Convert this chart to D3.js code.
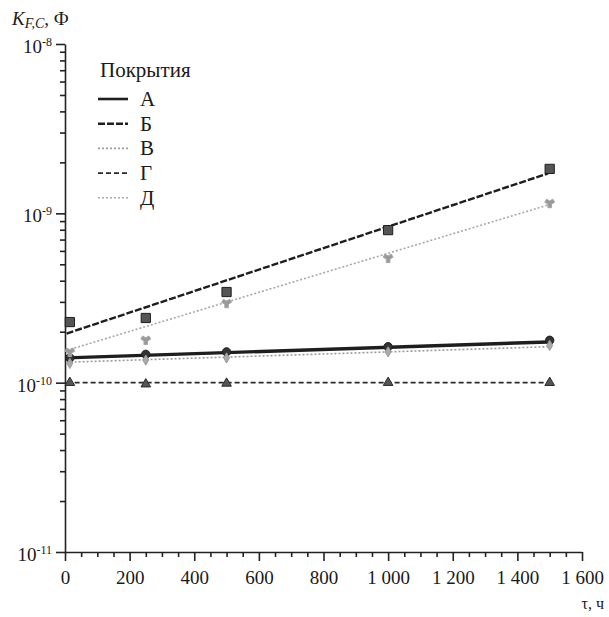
<!DOCTYPE html>
<html>
<head>
<meta charset="utf-8">
<script src="https://cdn.jsdelivr.net/npm/d3@7"></script>
<style>
  body { margin: 0; background: #fff; }
  svg text { font-family: "Liberation Serif", "Times New Roman", Times, "DejaVu Serif", serif; }
</style>
</head>
<body>
<svg width="609" height="617"></svg>
<script>
const FONT = '"Liberation Serif", "Times New Roman", Times, "DejaVu Serif", serif'

// exposure time, hours
const hours = [15, 250, 500, 1000, 1500]
const trendHours = [5, 1495]

const seriesNames = ['А', 'Б', 'В', 'Г', 'Д']

// measured points, F
const valuesA = [1.40e-10, 1.47e-10, 1.52e-10, 1.63e-10, 1.78e-10]
const valuesB = [2.28e-10, 2.41e-10, 3.43e-10, 7.96e-10, 1.83e-9]
const valuesV = [1.30e-10, 1.36e-10, 1.40e-10, 1.52e-10, 1.66e-10]
const valuesG = [1.00e-10, 0.98e-10, 0.99e-10, 1.00e-10, 1.00e-10]
const valuesD = [1.52e-10, 1.79e-10, 2.95e-10, 5.45e-10, 1.15e-9]

// trend lines (value at start / end)
const trendA = [1.40e-10, 1.74e-10]
const trendB = [1.95e-10, 1.72e-9]
const trendV = [1.32e-10, 1.63e-10]
const trendG = [1.00e-10, 1.00e-10]
const trendD = [1.55e-10, 1.12e-9]

const xTicks = [0, 200, 400, 600, 800, 1000, 1200, 1400, 1600]
const yDecades = [1e-11, 1e-10, 1e-9, 1e-8]

const styles = [
	{ color: '#1e1e1e', width: 3.4, dash: null,  symbol: d3.symbolCircle,   size: 55, fill: '#333' },
	{ color: '#1e1e1e', width: 2.4, dash: '7,2', symbol: d3.symbolSquare,   size: 85, fill: '#555' },
	{ color: '#9a9a9a', width: 1.6, dash: '2,2', symbol: d3.symbolDiamond,  size: 30, fill: '#aaa' },
	{ color: '#2a2a2a', width: 1.8, dash: '5,3', symbol: d3.symbolTriangle, size: 40, fill: '#555' },
	{ color: '#a8a8a8', width: 1.6, dash: '2,2', symbol: d3.symbolWye,      size: 45, fill: '#999' }
]

const series = [valuesA, valuesB, valuesV, valuesG, valuesD].map((vals, i) => ({
	name: seriesNames[i],
	points: vals.map((v, j) => ({ t: hours[j], v: v })),
	trend: [trendA, trendB, trendV, trendG, trendD][i].map((v, j) => ({ t: trendHours[j], v: v })),
	style: styles[i]
}))

const svg = d3.select('svg')

const x = d3.scaleLinear().domain([0, 1600]).range([65, 582])
const y = d3.scaleLog().domain([1e-11, 1e-8]).range([552, 44])

const fmt = d3.formatLocale({ decimal: ',', thousands: ' ', grouping: [3], currency: ['', ''] }).format(',d')

// x axis: major + minor ticks
const minorX = d3.range(0, 1601, 50).filter(d => d % 200 != 0)
svg.append('g')
	.attr('transform', `translate(0,${y(1e-11)})`)
	.call(d3.axisBottom(x).tickValues(minorX).tickSize(5).tickFormat(''))
	.call(g => g.select('.domain').remove())
const xAxis = svg.append('g')
	.attr('transform', `translate(0,${y(1e-11)})`)
	.call(d3.axisBottom(x).tickValues(xTicks).tickSize(9).tickSizeOuter(0).tickPadding(10).tickFormat(fmt))
xAxis.attr('font-family', FONT)
xAxis.selectAll('.tick text')
	.attr('font-size', 19)
	.attr('fill', '#1a1a1a')

// y axis: decades + minor ticks
const minorY = []
for (let k = -11; k < -8; k++) {
	for (let m = 2; m <= 9; m++) minorY.push(m * Math.pow(10, k))
}
svg.append('g')
	.attr('transform', `translate(${x(0)},0)`)
	.call(d3.axisLeft(y).tickValues(minorY).tickSize(5).tickFormat(''))
	.call(g => g.select('.domain').remove())
const yAxis = svg.append('g')
	.attr('transform', `translate(${x(0)},0)`)
	.call(d3.axisLeft(y).tickValues(yDecades).tickSize(9).tickSizeOuter(0).tickPadding(4))
yAxis.attr('font-family', FONT)
yAxis.selectAll('.tick text').each(function(d) {
	const t = d3.select(this).text('')
		.attr('font-size', 19)
		.attr('dy', '0.45em')
		.attr('fill', '#1a1a1a')
	t.append('tspan').text('10')
	t.append('tspan').attr('dy', '-0.6em').attr('font-size', 12).text('-' + Math.round(-Math.log10(d)))
})

svg.selectAll('.domain, .tick line').attr('stroke', '#222').attr('stroke-width', 1.6)

// series: trend lines first, then markers
const line = d3.line().x(d => x(d.t)).y(d => y(d.v))
series.forEach(s => {
	svg.append('path')
		.datum(s.trend)
		.attr('d', line)
		.attr('fill', 'none')
		.attr('stroke', s.style.color)
		.attr('stroke-width', s.style.width)
		.attr('stroke-dasharray', s.style.dash)
})
series.forEach(s => {
	svg.append('g').selectAll('path')
		.data(s.points)
		.join('path')
		.attr('transform', d => `translate(${x(d.t)},${y(d.v)})`)
		.attr('d', d3.symbol().type(s.style.symbol).size(s.style.size))
		.attr('fill', s.style.fill)
		.attr('stroke', s.style.color)
		.attr('stroke-width', 1)
})

// legend
const legend = svg.append('g').attr('transform', 'translate(98,77)')
legend.append('text')
	.attr('x', 2).attr('y', 0)
	.attr('font-family', FONT)
	.attr('font-size', 21)
	.attr('fill', '#1a1a1a')
	.text('Покрытия')
series.forEach((s, i) => {
	const row = legend.append('g').attr('transform', `translate(0,${22 + i * 24.7})`)
	row.append('line')
		.attr('x1', 0).attr('x2', 30)
		.attr('stroke', s.style.color)
		.attr('stroke-width', Math.min(s.style.width, 2.6))
		.attr('stroke-dasharray', s.style.dash)
	row.append('text')
		.attr('x', 42).attr('y', 7)
		.attr('font-family', FONT)
		.attr('font-size', 21)
		.attr('fill', '#1a1a1a')
		.text(s.name)
})

// axis titles
const yTitle = svg.append('text')
	.attr('x', 12).attr('y', 25)
	.attr('font-family', FONT)
	.attr('font-size', 19)
	.attr('fill', '#1a1a1a')
yTitle.append('tspan').attr('font-style', 'italic').text('K')
yTitle.append('tspan').attr('font-style', 'italic').attr('font-size', 14).attr('dy', 3).text('F,C')
yTitle.append('tspan').attr('dy', -3).text(', Ф')

svg.append('text')
	.attr('x', 604).attr('y', 609)
	.attr('text-anchor', 'end')
	.attr('font-family', FONT)
	.attr('font-size', 16)
	.attr('fill', '#1a1a1a')
	.text('τ, ч')
</script>
</body>
</html>
